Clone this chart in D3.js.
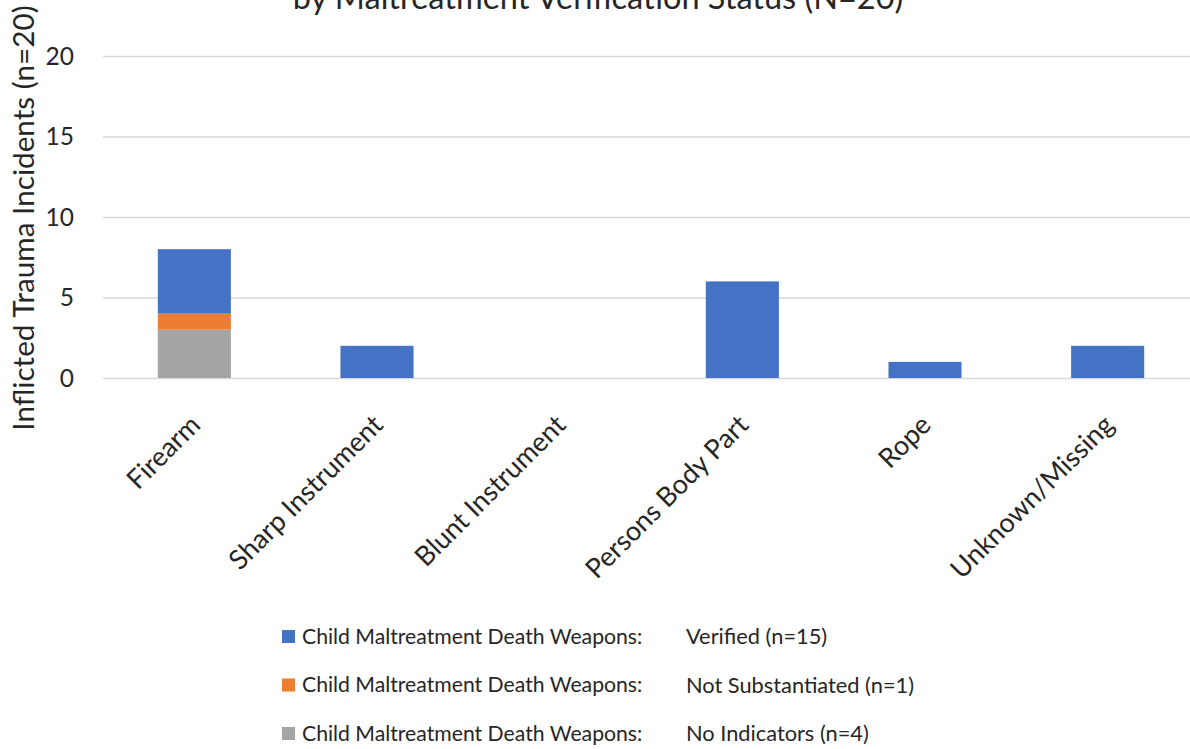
<!DOCTYPE html>
<html>
<head>
<meta charset="utf-8">
<script src="https://cdn.jsdelivr.net/npm/d3@7"></script>
<style>
  html, body { margin: 0; padding: 0; background: #fff; }
  svg { display: block; font-family: Lato, "Noto Sans", sans-serif; }
</style>
</head>
<body>
<svg id="chart" width="1190" height="749"></svg>
<script>
const categories = ["Firearm", "Sharp Instrument", "Blunt Instrument", "Persons Body Part", "Rope", "Unknown/Missing"];
const verified = [4, 2, 0, 6, 1, 2];
const notSubstantiated = [1, 0, 0, 0, 0, 0];
const noIndicators = [3, 0, 0, 0, 0, 0];
const yTicks = [0, 5, 10, 15, 20];
const seriesPrefix = "Child Maltreatment Death Weapons:";
const seriesNames = ["Verified (n=15)", "Not Substantiated (n=1)", "No Indicators (n=4)"];
const title = "by Maltreatment Verification Status (N=20)";
const yTitle = "Inflicted Trauma Incidents (n=20)";

const colors = { verified: "#4472C4", notSub: "#ED7D31", noInd: "url(#grayTex)" };

const svg = d3.select("#chart");
const defs = svg.append("defs");
const pat = defs.append("pattern").attr("id", "grayTex").attr("width", 4).attr("height", 4)
  .attr("patternUnits", "userSpaceOnUse");
pat.append("rect").attr("width", 4).attr("height", 4).attr("fill", "#A5A5A5");
pat.append("rect").attr("x", 0).attr("y", 0).attr("width", 1).attr("height", 1).attr("fill", "#989898");
pat.append("rect").attr("x", 2).attr("y", 2).attr("width", 1).attr("height", 1).attr("fill", "#989898");
pat.append("rect").attr("x", 1).attr("y", 3).attr("width", 1).attr("height", 1).attr("fill", "#b0b0b0");
pat.append("rect").attr("x", 3).attr("y", 1).attr("width", 1).attr("height", 1).attr("fill", "#b0b0b0");

const plotLeft = 103, plotRight = 1199, plotTop = 56, plotBottom = 378;

const x = d3.scaleBand().domain(categories).range([plotLeft, plotRight])
  .paddingInner(0.6).paddingOuter(0.3);
const xc = d3.scaleBand().domain(categories).range([plotLeft, plotRight]).padding(0);
const y = d3.scaleLinear().domain([0, 20]).range([plotBottom, plotTop]);

// gridlines
svg.append("g").selectAll("line").data(yTicks).join("line")
  .attr("x1", plotLeft).attr("x2", plotRight)
  .attr("y1", d => y(d) + 0.5).attr("y2", d => y(d) + 0.5)
  .attr("stroke", "#D9D9D9").attr("stroke-width", 1.5);

// y tick labels
svg.append("g").selectAll("text").data(yTicks).join("text")
  .attr("x", 74)
  .attr("y", d => y(d))
  .attr("dy", "0.36em")
  .attr("text-anchor", "end")
  .attr("font-size", 24.5)
  .attr("fill", "#262626")
  .text(d => d);

// stacked data
const rows = categories.map((c, i) => ({ cat: c, noInd: noIndicators[i], notSub: notSubstantiated[i], verified: verified[i] }));
const keys = ["noInd", "notSub", "verified"];
const stack = d3.stack().keys(keys)(rows);

svg.append("g").selectAll("g").data(stack).join("g")
  .attr("fill", d => colors[d.key])
  .selectAll("rect").data(d => d.filter(s => s[1] - s[0] > 0)).join("rect")
  .attr("x", d => x(d.data.cat))
  .attr("width", x.bandwidth())
  .attr("y", d => y(d[1]))
  .attr("height", d => y(d[0]) - y(d[1]));

// category labels
svg.append("g").selectAll("text").data(categories).join("text")
  .attr("transform", d => `translate(${xc(d) + xc.bandwidth() / 2 + 1},${420}) rotate(-45)`)
  .attr("text-anchor", "end")
  .attr("dy", "0.35em")
  .attr("font-size", 27)
  .attr("fill", "#262626")
  .text(d => d);

// title
svg.append("text").attr("x", 598).attr("y", 9).attr("text-anchor", "middle")
  .attr("font-size", 32.5).attr("fill", "#262626").text(title);

// y title
svg.append("text").attr("transform", `translate(34,218) rotate(-90)`)
  .attr("text-anchor", "middle").attr("font-size", 29.7).attr("fill", "#262626").text(yTitle);

// legend
const legendFills = [colors.verified, colors.notSub, colors.noInd];
const lg = svg.append("g").selectAll("g").data(seriesNames).join("g")
  .attr("transform", (d, i) => `translate(282,${630 + i * 48.5})`);
lg.append("rect").attr("width", 13).attr("height", 13).attr("fill", (d, i) => legendFills[i]);
lg.append("text").attr("x", 20).attr("y", 6.5).attr("dy", "0.35em").attr("font-size", 21.2)
  .attr("fill", "#262626").text(seriesPrefix);
lg.append("text").attr("x", 404).attr("y", 6.5).attr("dy", "0.35em").attr("font-size", 21.8)
  .attr("fill", "#262626").text(d => d);
</script>
</body>
</html>
